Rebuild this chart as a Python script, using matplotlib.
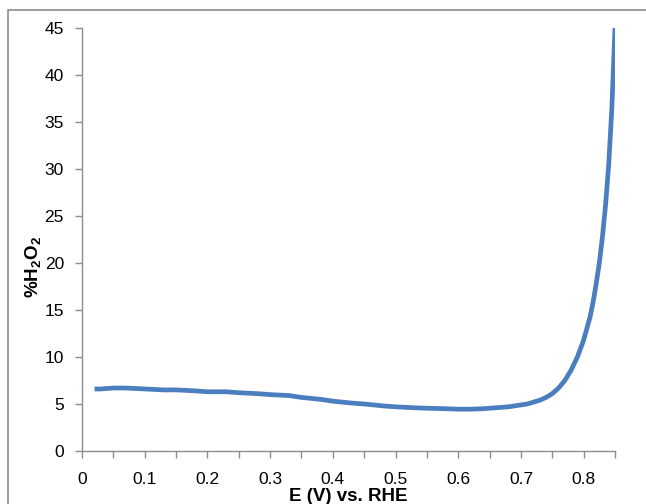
import matplotlib
matplotlib.use("Agg")
import matplotlib.pyplot as plt
from matplotlib.patches import Rectangle

plt.rcParams['font.family'] = ['Liberation Sans', 'DejaVu Sans']
plt.rcParams['mathtext.fontset'] = 'custom'
plt.rcParams['mathtext.bf'] = 'Liberation Sans:bold'
plt.rcParams['mathtext.rm'] = 'Liberation Sans'

potential = [0.02, 0.03, 0.05, 0.07, 0.10, 0.13, 0.15, 0.18, 0.20, 0.23, 0.25, 0.28,
             0.30, 0.33, 0.35, 0.38, 0.40, 0.43, 0.45, 0.48, 0.50, 0.53, 0.55, 0.58,
             0.60, 0.62, 0.64, 0.66, 0.68, 0.70, 0.71, 0.72, 0.73, 0.74, 0.75, 0.76,
             0.77, 0.78, 0.79, 0.80, 0.81, 0.815, 0.82, 0.825, 0.83, 0.835, 0.84,
             0.845, 0.85]
h2o2 = [6.6, 6.6, 6.7, 6.7, 6.6, 6.5, 6.5, 6.4, 6.3, 6.3, 6.2, 6.1,
        6.0, 5.9, 5.7, 5.5, 5.3, 5.1, 5.0, 4.8, 4.7, 4.6, 4.55, 4.5,
        4.45, 4.45, 4.5, 4.6, 4.7, 4.9, 5.0, 5.2, 5.4, 5.7, 6.1, 6.7,
        7.5, 8.6, 10.0, 11.8, 14.2, 15.8, 17.8, 20.0, 22.8, 26.2, 30.5,
        36.5, 45.0]
xticks = [0, 0.1, 0.2, 0.3, 0.4, 0.5, 0.6, 0.7, 0.8]
xtick_labels = ['0', '0.1', '0.2', '0.3', '0.4', '0.5', '0.6', '0.7', '0.8']
yticks = [0, 5, 10, 15, 20, 25, 30, 35, 40, 45]

fig = plt.figure(figsize=(6.46, 5.04), dpi=100)
ax = fig.add_axes([82/646, 1-451/504, (615-82)/646, (451-28)/504])

ax.plot(potential, h2o2, color='#4a7ebf', lw=3.4, solid_capstyle='butt')

ax.set_xlim(0, 0.85)
ax.set_ylim(0, 45)
ax.set_xticks(xticks)
ax.set_xticklabels(xtick_labels)
ax.set_xticks([0.05, 0.15, 0.25, 0.35, 0.45, 0.55, 0.65, 0.75, 0.85], minor=True)
ax.set_yticks(yticks)
ax.tick_params(axis='both', which='both', direction='out', length=5, width=1,
               color='#8c8c8c', labelsize=12.5, pad=4)
ax.tick_params(axis='x', which='major', pad=10)
ax.tick_params(axis='y', which='major', pad=8)
for s in ['top', 'right']:
    ax.spines[s].set_visible(False)
for s in ['left', 'bottom']:
    ax.spines[s].set_color('#8c8c8c')
    ax.spines[s].set_linewidth(1)

ax.set_xlabel('E (V) vs. RHE', fontsize=13.5, fontweight='bold')
ax.xaxis.set_label_coords(0.5, -0.088)
ax.set_ylabel(r'%H$_{\mathbf{2}}$O$_{\mathbf{2}}$', fontsize=13.5, fontweight='bold')
ax.yaxis.set_label_coords(-0.072, 0.435)

fig.patches.append(Rectangle((8/646, -0.1), 1.2, 1.1 - 10/504, transform=fig.transFigure,
                             fill=False, edgecolor='#8c8c8c', lw=1.2))

fig.savefig('out.png', dpi=100)
